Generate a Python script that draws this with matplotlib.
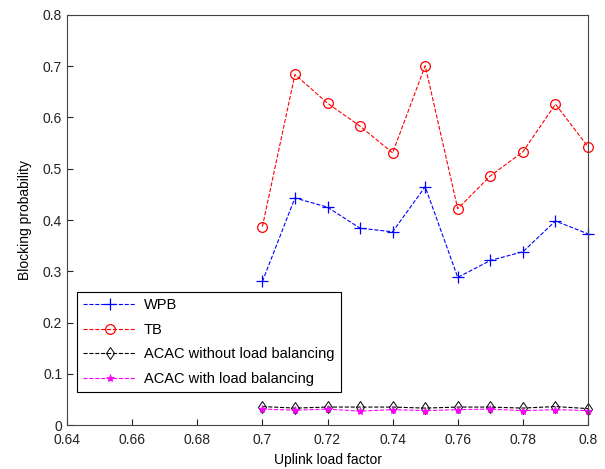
import matplotlib
matplotlib.use("Agg")
import matplotlib.pyplot as plt

plt.rcParams['font.family'] = ['Liberation Sans', 'DejaVu Sans']

load = [0.70, 0.71, 0.72, 0.73, 0.74, 0.75, 0.76, 0.77, 0.78, 0.79, 0.80]
wpb = [0.280, 0.443, 0.425, 0.384, 0.377, 0.465, 0.288, 0.321, 0.338, 0.398, 0.373]
tb = [0.387, 0.684, 0.628, 0.583, 0.531, 0.701, 0.422, 0.486, 0.533, 0.626, 0.543]
acac_no_lb = [0.036, 0.033, 0.035, 0.035, 0.035, 0.033, 0.035, 0.035, 0.033, 0.036, 0.032]
acac_lb = [0.031, 0.029, 0.031, 0.027, 0.030, 0.028, 0.030, 0.031, 0.028, 0.030, 0.028]

fig = plt.figure(figsize=(6.05, 4.69), dpi=100)
ax = fig.add_axes([67/605, 44/469, 521/605, 410/469])

ax.plot(load, wpb, '--', color='blue', marker='+', ms=8, mew=0.9, lw=0.8,
        label='WPB', clip_on=False)
ax.plot(load, tb, '--', color='red', marker='o', ms=7, mfc='none', mew=0.9, lw=0.8,
        label='TB', clip_on=False)
ax.plot(load, acac_no_lb, '--', color='black', marker='d', ms=6, mfc='none', mew=0.7, lw=0.8,
        label='ACAC without load balancing', clip_on=False)
ax.plot(load, acac_lb, '--', color='magenta', marker='*', ms=6, mew=0.5, lw=0.8,
        label='ACAC with load balancing', clip_on=False)

ax.set_xlim(0.64, 0.8)
ax.set_ylim(0, 0.8)
ax.set_xticks([0.64, 0.66, 0.68, 0.7, 0.72, 0.74, 0.76, 0.78, 0.8])
ax.set_xticklabels(['0.64', '0.66', '0.68', '0.7', '0.72', '0.74', '0.76', '0.78', '0.8'])
ax.set_yticks([0, 0.1, 0.2, 0.3, 0.4, 0.5, 0.6, 0.7, 0.8])
ax.set_yticklabels(['0', '0.1', '0.2', '0.3', '0.4', '0.5', '0.6', '0.7', '0.8'])
ax.tick_params(direction='in', labelsize=10, length=4, colors='#222222')
ax.tick_params(axis='x', pad=6)
for s in ax.spines.values():
    s.set_color('#444444')
ax.set_xlabel('Uplink load factor', fontsize=10, labelpad=4)
ax.set_ylabel('Blocking probability', fontsize=10, labelpad=8)

leg = ax.legend(loc='lower left', bbox_to_anchor=(0.019, 0.08), fontsize=10.5, fancybox=False,
                edgecolor='black', framealpha=1, handlelength=3.6, borderpad=0.45,
                labelspacing=0.72, handletextpad=0.55, borderaxespad=0)
leg.get_frame().set_linewidth(0.8)

fig.savefig('out.png', dpi=100)
